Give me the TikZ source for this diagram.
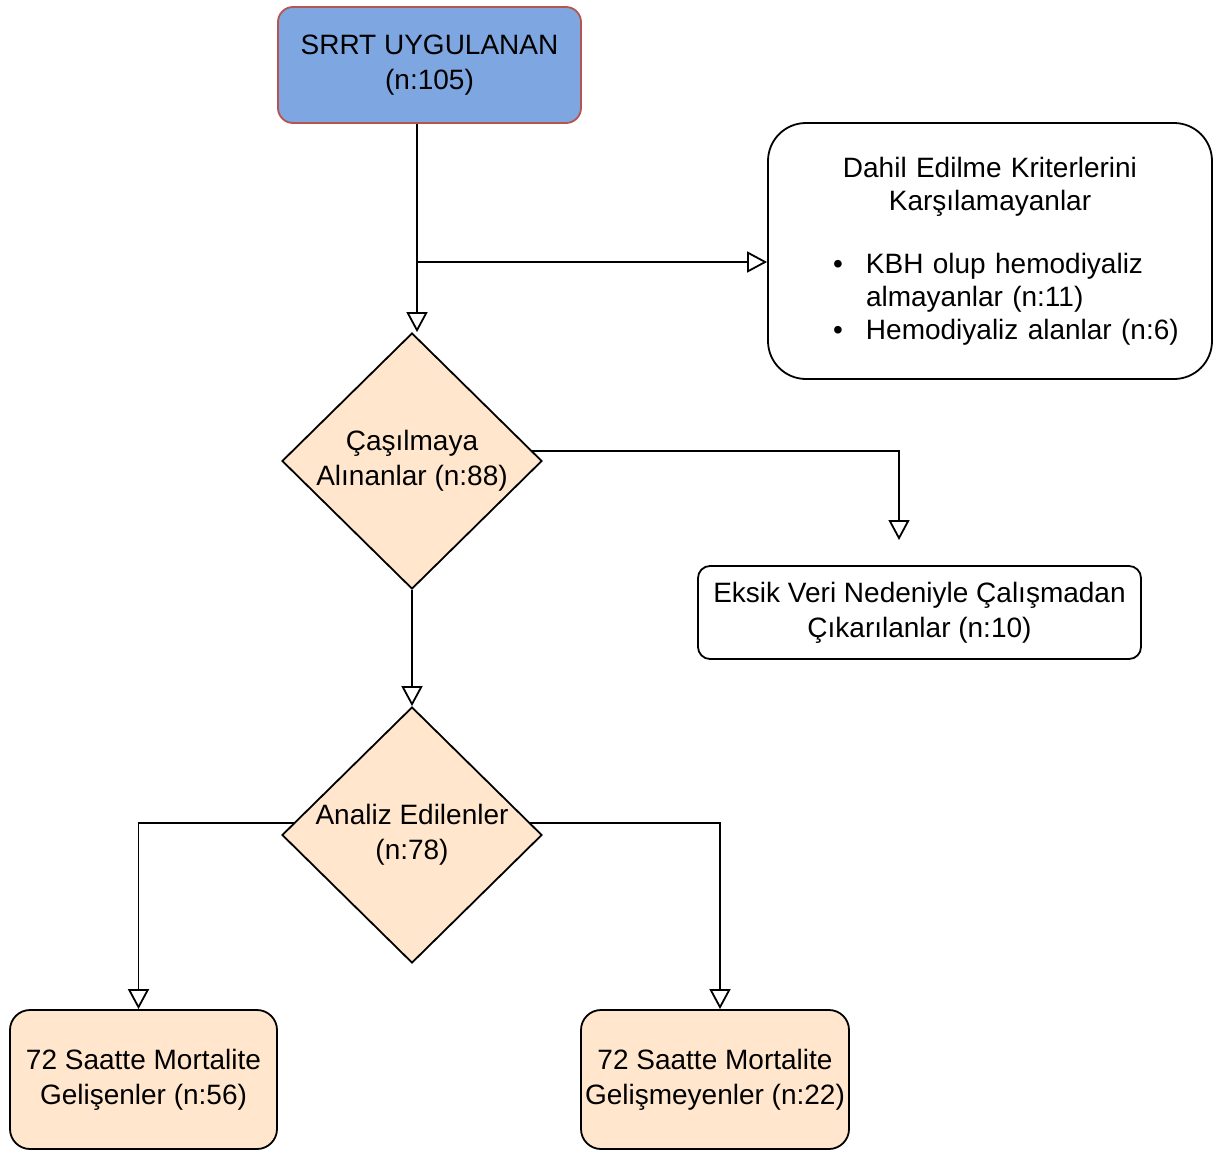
\documentclass[tikz,border=0pt]{standalone}
\usepackage{fontspec}
\setmainfont{Liberation Sans}
\usetikzlibrary{shapes.geometric,arrows.meta,backgrounds}
\definecolor{srrtblue}{HTML}{7EA6E0}
\definecolor{srrtred}{HTML}{B85450}
\definecolor{peach}{HTML}{FFE6CC}
\begin{document}
\begin{tikzpicture}[x=1pt,y=-1pt,
  every node/.style={font=\fontsize{28}{35}\selectfont},
  box/.style={draw,line width=1.8pt,rounded corners=#1,align=center,inner sep=2pt},
  box/.default=12pt,
  dec/.style={diamond,draw,line width=1.8pt,fill=peach,align=center,
    inner sep=0pt,minimum width=260pt,minimum height=256pt},
  flow/.style={line width=1.8pt,-{Triangle[open,length=20pt,width=21pt]}}]
\useasboundingbox (0,0) rectangle (1216,1151);
\node[box=15pt,fill=srrtblue,draw=srrtred,minimum width=303pt,minimum height=116pt]
  (srrt) at (429.5,65) {SRRT UYGULANAN\\(n:105)};
\node[box=38pt,fill=white,minimum width=444pt,minimum height=256pt,text width=440pt,align=left]
  (excl) at (990,251) {\fontsize{28}{33}\selectfont\centering
  Dahil Edilme Kriterlerini\\Karşılamayanlar\par\vspace{30pt}
  \raggedright\leftskip=96pt
  \noindent\llap{\textbullet\hspace{23pt}}KBH olup hemodiyaliz\\almayanlar (n:11)\par
  \noindent\llap{\textbullet\hspace{23pt}}Hemodiyaliz alanlar (n:6)\par};
\node[dec] (dia1) at (412,461) {Çaşılmaya\\Alınanlar (n:88)};
\node[box,fill=white,minimum width=443pt,minimum height=93pt]
  (eksik) at (919.5,612.5) {Eksik Veri Nedeniyle Çalışmadan\\Çıkarılanlar (n:10)};
\node[dec] (dia2) at (412,835) {Analiz Edilenler\\(n:78)};
\node[box=20pt,fill=peach,minimum width=267pt,minimum height=139pt]
  (dead) at (143.5,1079.5) {72 Saatte Mortalite\\Gelişenler (n:56)};
\node[box=20pt,fill=peach,minimum width=268pt,minimum height=139pt]
  (alive) at (715,1079.5) {72 Saatte Mortalite\\Gelişmeyenler (n:22)};
% connectors
\coordinate (split) at (417,262);
\coordinate (drop) at (899,540);
\begin{scope}[on background layer]
\draw[flow] (srrt.south -| split) -- (split |- dia1.north);
\draw[flow] (split) -- (split -| excl.west);
\draw[flow] ([yshift=10pt]dia1.center) -| (drop);
\draw[flow] (dia1.south) -- (dia2.north);
\draw[flow] ([yshift=12pt]dia2.center) -| ([xshift=-5pt]dead.north);
\draw[flow] ([yshift=12pt]dia2.center) -| ([xshift=5pt]alive.north);
\end{scope}
\end{tikzpicture}
\end{document}
